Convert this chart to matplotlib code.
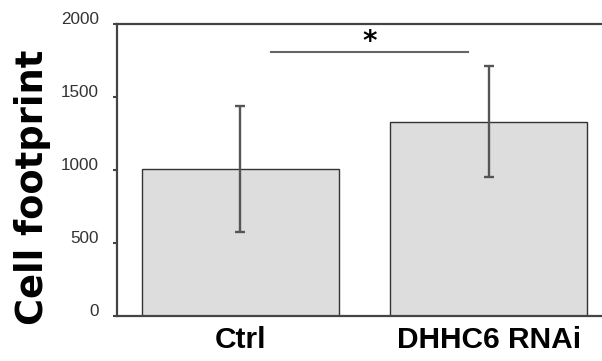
import matplotlib
matplotlib.use("Agg")
import matplotlib.pyplot as plt
from matplotlib.transforms import ScaledTranslation

categories = ["Ctrl", "DHHC6 RNAi"]
means = [1008, 1332]
errors = [430, 382]
yticks = [0, 500, 1000, 1500, 2000]
sig_line = (0.123, 0.914, 1810)
sig_label = "*"

fig = plt.figure(figsize=(6.02, 3.61), dpi=100)
ax = fig.add_axes([117/602, 1-316/361, 1-117/602, (316-24)/361])

x = list(range(len(categories)))
ax.bar(x, means, width=0.793, color="#dcdddc", edgecolor="#333333", linewidth=1.0, zorder=2)
ax.errorbar(x, means, yerr=errors, fmt="none", ecolor="#555555", elinewidth=1.7,
            capsize=3.5, capthick=1.7, zorder=3)

ax.set_xlim(-0.497, 1.455)
ax.set_ylim(0, 2000)
ax.set_yticks(yticks)
ax.set_yticklabels([str(t) for t in yticks], fontsize=12.3, color="#333333",
                   family="Liberation Sans")
ax.set_xticks(x)
ax.set_xticklabels(categories, fontsize=21.5, fontweight="bold", family="Liberation Sans")
ax.tick_params(axis="x", length=0, pad=7)
ax.tick_params(axis="y", length=3, width=1.5, color="#444444", pad=10)
off = ScaledTranslation(0, 4/72, fig.dpi_scale_trans)
for lab in ax.get_yticklabels():
    lab.set_transform(lab.get_transform() + off)

for s in ["left", "top", "bottom"]:
    ax.spines[s].set_color("#444444")
    ax.spines[s].set_linewidth(1.6)
ax.spines["right"].set_visible(False)

ax.plot([sig_line[0], sig_line[1]], [sig_line[2], sig_line[2]], color="#666666", lw=1.5, zorder=3)
ax.text((sig_line[0]+sig_line[1])/2, 1875, sig_label, ha="center", va="center",
        fontsize=20, fontweight="bold", color="black")

ylab = ax.set_ylabel("Cell footprint", fontsize=26.5, fontweight="bold", family="DejaVu Sans")
ylab.set_va("center")
ylab.set_ha("center")
ax.yaxis.set_label_coords((33-117)/485, (316-187.5)/292)

fig.savefig("out.png", dpi=100)
